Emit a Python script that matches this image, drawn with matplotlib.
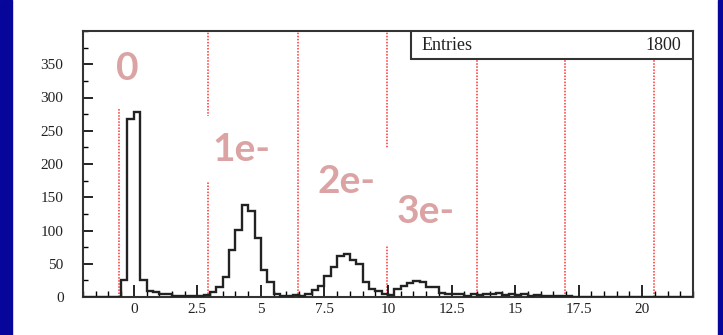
import numpy as np
import matplotlib
matplotlib.use("Agg")
import matplotlib.pyplot as plt
from matplotlib.patches import Rectangle
from matplotlib.ticker import MultipleLocator, FuncFormatter

# histogram binning (ROOT style): -2 .. 22, 0.25 wide bins
x_min, x_max, bin_w = -2.0, 22.0, 0.25
counts = [0, 0, 0, 0, 0, 0, 25, 268, 278, 25,
          9, 8, 5, 4, 2, 2, 1, 1, 2, 3,
          8, 15, 30, 70, 101, 138, 129, 89, 40, 23,
          4, 1, 1, 3, 2, 4, 10, 16, 32, 45,
          62, 65, 55, 50, 23, 12, 9, 4, 3, 12,
          17, 21, 24, 22, 15, 15, 6, 5, 5, 4,
          2, 4, 3, 5, 4, 6, 3, 5, 3, 4,
          2, 3, 1, 2, 1, 2, 1, 0, 0, 0,
          0, 0, 0, 0, 0, 0, 0, 0, 0, 0,
          0, 0, 0, 0, 0, 0]
entries = 1800

# dotted separation lines between photo-electron peaks
cut_lines = [-0.6, 2.9, 6.45, 9.95, 13.5, 16.95, 20.45]

peak_labels = ["0", "1e-", "2e-", "3e-"]
peak_label_pos = [(-0.25, 344), (4.25, 222), (8.35, 174), (11.5, 128)]

fig = plt.figure(figsize=(7.23, 3.35), dpi=100)
fig.patch.set_facecolor("white")
# blue slide background showing at the sides
fig.patches.append(Rectangle((0, 0), 12 / 723, 1, transform=fig.transFigure,
                             color="#06069a", zorder=0))
fig.patches.append(Rectangle((718 / 723, 0), 5 / 723, 1, transform=fig.transFigure,
                             color="#06069a", zorder=0))

ax = fig.add_axes([83 / 723, 1 - 297 / 335, 610 / 723, 266 / 335])

edges = np.linspace(x_min, x_max, len(counts) + 1)
ax.stairs(counts, edges, color="#222222", lw=1.7, zorder=3)

for xc in cut_lines:
    ax.axvline(xc, color="#ff3030", lw=1.1, ls=(0, (1, 1)), zorder=1)

for lab, (lx, ly) in zip(peak_labels, peak_label_pos):
    pad = 0.6 if lab == "0" else 0.4
    ax.text(lx, ly, lab, fontsize=28, fontweight="bold", family="Lato",
            color="#dba3a3", ha="center", va="center", zorder=2,
            bbox=dict(boxstyle=f"square,pad={pad}", fc="white", ec="none"))

ax.set_xlim(x_min, x_max)
ax.set_ylim(0, 400)

ax.xaxis.set_major_locator(MultipleLocator(2.5))
ax.xaxis.set_minor_locator(MultipleLocator(0.5))
ax.yaxis.set_major_locator(MultipleLocator(50))
ax.yaxis.set_minor_locator(MultipleLocator(25))
ax.xaxis.set_major_formatter(FuncFormatter(lambda v, p: f"{v:g}"))
ax.set_yticks([0, 50, 100, 150, 200, 250, 300, 350])

ax.tick_params(axis="x", which="major", direction="in", length=9, width=1.2, pad=4)
ax.tick_params(axis="x", which="minor", direction="in", length=4.5, width=1.0)
ax.tick_params(axis="y", which="major", direction="in", length=7, width=1.2, pad=14)
ax.tick_params(axis="y", which="minor", direction="in", length=3.5, width=1.0)
for lab in ax.get_xticklabels() + ax.get_yticklabels():
    lab.set_family("Liberation Serif")
    lab.set_fontsize(11)
    lab.set_color("#222222")

for sp in ax.spines.values():
    sp.set_linewidth(1.5)
    sp.set_color("#333333")

# stats box
ax.add_patch(Rectangle((0.537, 0.895), 0.463, 0.105, transform=ax.transAxes,
                       fc="white", ec="#333333", lw=1.5, zorder=4))
ax.text(0.555, 0.947, "Entries", transform=ax.transAxes, family="Liberation Serif",
        fontsize=13, ha="left", va="center", color="#222222", zorder=5)
ax.text(0.98, 0.947, str(entries), transform=ax.transAxes, family="Liberation Serif",
        fontsize=13, ha="right", va="center", color="#222222", zorder=5)

fig.savefig("out.png", dpi=100)
